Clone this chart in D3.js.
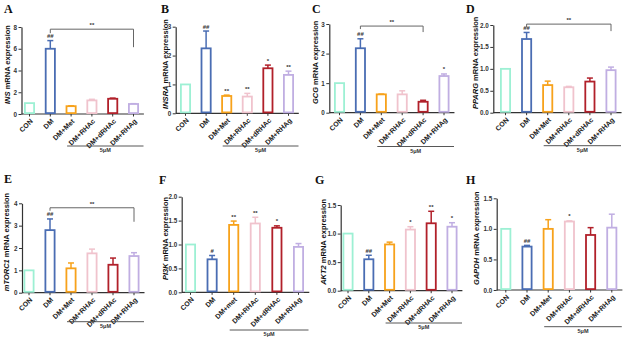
<!DOCTYPE html>
<html>
<head>
<meta charset="utf-8">
<script src="https://cdn.jsdelivr.net/npm/d3@7/dist/d3.min.js"></script>
<style>
  html, body { margin: 0; padding: 0; background: #fff; }
  svg { display: block; font-family: Arial, "Liberation Sans", sans-serif; }
</style>
</head>
<body>
<svg id="fig" width="624" height="339"></svg>
<script>
// Treatment groups (x categories) and their colours
const groups  = ["CON", "DM", "DM+Met", "DM+RHAc", "DM+dRHAc", "DM+RHAg"];
const groupsF = ["CON", "DM", "DM+met", "DM+RHAc", "DM+dRHAc", "DM+RHAg"];
const groupColors = ["#9df0d4", "#4a6db3", "#f7a21b", "#f0c3cd", "#b1202a", "#c0aee2"];
const doseLabel = "5μM";

// Relative mRNA expression: means, upper error (SD) and significance marks
const insMean  = [1.00, 6.00, 0.72, 1.25, 1.40, 0.92];
const insErr   = [0.00, 0.75, 0.03, 0.10, 0.06, 0.03];
const insMarks = ["", "##", "", "", "", ""];

const insraMean  = [1.00, 2.25, 0.60, 0.58, 1.56, 1.33];
const insraErr   = [0.00, 0.60, 0.03, 0.11, 0.11, 0.13];
const insraMarks = ["", "##", "**", "**", "*", "**"];

const gcgMean  = [1.00, 2.18, 0.62, 0.62, 0.37, 1.24];
const gcgErr   = [0.00, 0.32, 0.01, 0.12, 0.05, 0.07];
const gcgMarks = ["", "##", "", "", "", "*"];

const ppargMean  = [1.00, 1.68, 0.63, 0.58, 0.71, 0.97];
const ppargErr   = [0.00, 0.15, 0.09, 0.02, 0.08, 0.07];
const ppargMarks = ["", "##", "", "", "", ""];

const mtorMean  = [1.00, 2.80, 1.09, 1.76, 1.25, 1.64];
const mtorErr   = [0.00, 0.50, 0.24, 0.19, 0.30, 0.15];
const mtorMarks = ["", "##", "", "", "", ""];

const pi3kMean  = [1.00, 0.69, 1.41, 1.44, 1.35, 0.95];
const pi3kErr   = [0.00, 0.08, 0.08, 0.13, 0.04, 0.07];
const pi3kMarks = ["", "#", "**", "**", "*", ""];

const akt2Mean  = [1.00, 0.55, 0.81, 1.07, 1.18, 1.12];
const akt2Err   = [0.00, 0.07, 0.04, 0.05, 0.21, 0.07];
const akt2Marks = ["", "##", "", "*", "**", "*"];

const gapdhMean  = [1.00, 0.71, 1.00, 1.12, 0.90, 1.02];
const gapdhErr   = [0.00, 0.02, 0.15, 0.01, 0.12, 0.22];
const gapdhMarks = ["", "##", "", "*", "", ""];

// Y axis ticks for each panel
const ticks0to8  = [0, 2, 4, 6, 8];
const ticks0to3  = [0, 1, 2, 3];
const ticks0to4  = [0, 1, 2, 3, 4];
const ticks0to2  = [0, 0.5, 1.0, 1.5, 2.0];
const ticks0to15 = [0, 0.5, 1.0, 1.5];

// Panel definitions (data + placement on the page)
const panels = [
  { letter: "A", gene: "INS",    mean: insMean,   err: insErr,   marks: insMarks,   cats: groups,  ticks: ticks0to8,  fmt: d3.format("d"),
    axisX: 21.5, c0: 29.5, step: 20.8, yTop: 27, yBot: 114, labelX: 7, letterX: 4, letterY: 13, doseY: 146,
    bracket: { from: 1, to: 5, level: 7.8, dropL: 4, dropR: 18 } },
  { letter: "B", gene: "INSRA",  mean: insraMean, err: insraErr, marks: insraMarks, cats: groups,  ticks: ticks0to3,  fmt: d3.format("d"),
    axisX: 175.7, c0: 185.5, step: 20.6, yTop: 26.7, yBot: 113.3, labelX: 165.5, letterX: 161, letterY: 13, doseY: 146 },
  { letter: "C", gene: "GCG",    mean: gcgMean,   err: gcgErr,   marks: gcgMarks,   cats: groups,  ticks: ticks0to3,  fmt: d3.format("d"),
    axisX: 329.3, c0: 339.5, step: 20.9, yTop: 24, yBot: 112.7, labelX: 315.5, letterX: 312, letterY: 13, doseY: 146.5,
    bracket: { from: 1, to: 4, level: 2.93, dropL: 3, dropR: 6 } },
  { letter: "D", gene: "PPARG",  mean: ppargMean, err: ppargErr, marks: ppargMarks, cats: groups,  ticks: ticks0to2,  fmt: d3.format(".1f"),
    axisX: 493.3, c0: 505.5, step: 21.1, yTop: 25, yBot: 112.7, labelX: 475, letterX: 466, letterY: 13, doseY: 145.7,
    bracket: { from: 1, to: 5, level: 2.02, dropL: 3, dropR: 7 } },
  { letter: "E", gene: "mTORC1", mean: mtorMean,  err: mtorErr,  marks: mtorMarks,  cats: groups,  ticks: ticks0to4,  fmt: d3.format("d"),
    axisX: 22, c0: 29, step: 21, yTop: 203.3, yBot: 292.7, labelX: 6, letterX: 4, letterY: 183, doseY: 321.7,
    bracket: { from: 1, to: 5, level: 3.8, dropL: 3, dropR: 14 } },
  { letter: "F", gene: "PI3K",   mean: pi3kMean,  err: pi3kErr,  marks: pi3kMarks,  cats: groupsF, ticks: ticks0to2,  fmt: d3.format(".1f"),
    axisX: 181.7, c0: 190.5, step: 21.6, yTop: 196.7, yBot: 292.3, labelX: 165, letterX: 159, letterY: 184, doseY: 330 },
  { letter: "G", gene: "AKT2",   mean: akt2Mean,  err: akt2Err,  marks: akt2Marks,  cats: groups,  ticks: ticks0to15, fmt: d3.format(".1f"),
    axisX: 340.7, c0: 348, step: 20.8, yTop: 205, yBot: 290.7, labelX: 323.5, letterX: 315, letterY: 184, doseY: 323 },
  { letter: "H", gene: "GAPDH",  mean: gapdhMean, err: gapdhErr, marks: gapdhMarks, cats: groups,  ticks: ticks0to15, fmt: d3.format(".1f"),
    axisX: 496.7, c0: 505.8, step: 21.2, yTop: 198.3, yBot: 290, labelX: 476, letterX: 466, letterY: 184, doseY: 326.7 }
];

const svg = d3.select("#fig");
const axisColor = "#333";
const barWidth = 11;

panels.forEach(p => {
  const g = svg.append("g");
  const n = p.cats.length;
  const maxVal = p.ticks[p.ticks.length - 1];

  const pad = 1 - barWidth / p.step;
  const x = d3.scaleBand()
    .domain(p.cats)
    .range([p.c0 - p.step / 2, p.c0 + (n - 0.5) * p.step])
    .paddingInner(pad)
    .paddingOuter(pad / 2);
  const y = d3.scaleLinear().domain([0, maxVal]).range([p.yBot, p.yTop]);
  const cx = i => x(p.cats[i]) + x.bandwidth() / 2;

  // Panel letter
  g.append("text")
    .attr("x", p.letterX).attr("y", p.letterY)
    .attr("font-family", "'Liberation Serif', 'Times New Roman', serif")
    .attr("font-weight", "bold").attr("font-size", 12)
    .attr("fill", "#111")
    .text(p.letter);

  // Y axis
  const yAxis = d3.axisLeft(y).tickValues(p.ticks).tickFormat(p.fmt).tickSize(3).tickSizeOuter(0).tickPadding(1.5);
  const ya = g.append("g").attr("transform", `translate(${p.axisX},0)`).call(yAxis);
  ya.select(".domain").attr("stroke", axisColor).attr("stroke-width", 1.2);
  ya.selectAll(".tick line").attr("stroke", axisColor).attr("stroke-width", 1);
  ya.selectAll(".tick text").attr("font-size", 6.3).attr("font-weight", "bold").attr("fill", "#333")
    .attr("font-family", "Arial, 'Liberation Sans', sans-serif");

  // Y axis title (italic gene name)
  const yMid = (p.yTop + p.yBot) / 2 - 6;
  const yt = g.append("text")
    .attr("transform", `translate(${p.labelX},${yMid}) rotate(-90)`)
    .attr("text-anchor", "middle").attr("dy", "0.35em")
    .attr("font-size", 7.5).attr("font-weight", "bold").attr("fill", "#111");
  yt.append("tspan").attr("font-style", "italic").text(p.gene);
  yt.append("tspan").text(" mRNA expression");

  // X axis baseline and ticks
  const xEnd = cx(n - 1) + p.step / 2;
  g.append("line")
    .attr("x1", p.axisX).attr("x2", xEnd)
    .attr("y1", p.yBot).attr("y2", p.yBot)
    .attr("stroke", axisColor).attr("stroke-width", 1.2);
  g.selectAll(".xt").data(p.cats).join("line")
    .attr("x1", (d, i) => cx(i)).attr("x2", (d, i) => cx(i))
    .attr("y1", p.yBot).attr("y2", p.yBot + 2.5)
    .attr("stroke", axisColor).attr("stroke-width", 1);
  g.selectAll(".xl").data(p.cats).join("text")
    .attr("transform", (d, i) => `translate(${cx(i) + 2},${p.yBot + 6}) rotate(-45)`)
    .attr("text-anchor", "end").attr("dy", "0.35em")
    .attr("font-size", 7).attr("font-weight", "bold").attr("fill", "#222")
    .text(d => d);

  // Error bars (upper only, with caps)
  const capW = 6;
  p.mean.forEach((m, i) => {
    if (p.err[i] <= 0) return;
    const top = y(m + p.err[i]);
    g.append("line")
      .attr("x1", cx(i)).attr("x2", cx(i))
      .attr("y1", y(m)).attr("y2", top)
      .attr("stroke", groupColors[i]).attr("stroke-width", 1.5);
    g.append("line")
      .attr("x1", cx(i) - capW / 2).attr("x2", cx(i) + capW / 2)
      .attr("y1", top).attr("y2", top)
      .attr("stroke", groupColors[i]).attr("stroke-width", 1.5);
  });

  // Bars (open, coloured outline)
  g.selectAll(".bar").data(p.mean).join("rect")
    .attr("x", (d, i) => x(p.cats[i]) + 0.9)
    .attr("width", x.bandwidth() - 1.8)
    .attr("y", d => y(d))
    .attr("height", d => p.yBot - y(d) - 0.9)
    .attr("fill", "#fff")
    .attr("stroke", (d, i) => groupColors[i])
    .attr("stroke-width", 1.8);

  // Significance marks above each bar
  g.selectAll(".mk").data(p.marks).join("text")
    .attr("x", (d, i) => cx(i))
    .attr("y", (d, i) => y(p.mean[i] + p.err[i]) - 2.5)
    .attr("text-anchor", "middle")
    .attr("font-size", 6).attr("font-weight", "bold").attr("fill", "#333")
    .text(d => d);

  // Comparison bracket
  if (p.bracket) {
    const b = p.bracket;
    const by = y(b.level);
    const x1 = cx(b.from), x2 = cx(b.to);
    g.append("path")
      .attr("d", `M${x1},${by + b.dropL}V${by}H${x2}V${by + b.dropR}`)
      .attr("fill", "none").attr("stroke", "#666").attr("stroke-width", 1);
    g.append("text")
      .attr("x", (x1 + x2) / 2).attr("y", by - 2)
      .attr("text-anchor", "middle")
      .attr("font-size", 6).attr("font-weight", "bold").attr("fill", "#333")
      .text("**");
  }

  // Dose bracket under the treated groups
  const dx1 = cx(2) - 4, dx2 = cx(5) + 10;
  g.append("line")
    .attr("x1", dx1).attr("x2", dx2)
    .attr("y1", p.doseY).attr("y2", p.doseY)
    .attr("stroke", "#444").attr("stroke-width", 0.9);
  g.append("text")
    .attr("x", (dx1 + dx2) / 2).attr("y", p.doseY + 6)
    .attr("text-anchor", "middle")
    .attr("font-size", 5.5).attr("font-weight", "bold").attr("fill", "#333")
    .text(doseLabel);
});
</script>
</body>
</html>
